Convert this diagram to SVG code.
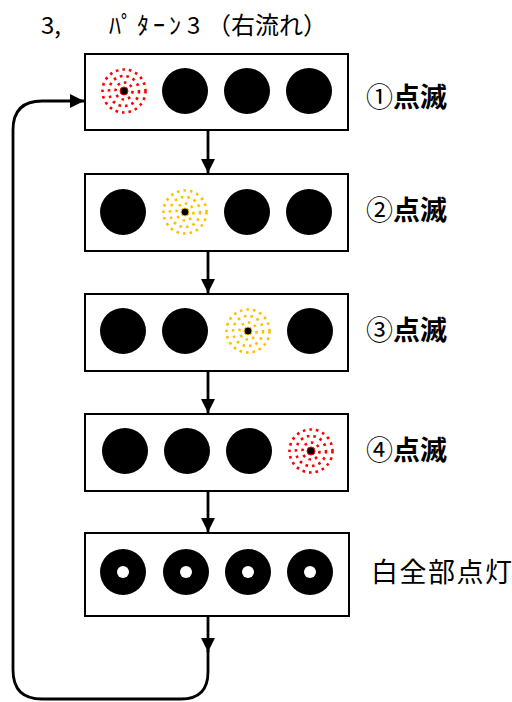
<svg xmlns="http://www.w3.org/2000/svg" width="512" height="702" viewBox="0 0 512 702">
<style>
.box{fill:#fff;stroke:#000;stroke-width:2}
.lamp{fill:#000}
.hole{fill:#fff}
.conn{fill:none;stroke:#000;stroke-width:2.8}
.ring{fill:none;stroke-width:2.6;stroke-dasharray:2.6 4}
.lbl{font-family:"Noto Sans CJK JP","Noto Sans",sans-serif;font-size:27px;font-weight:bold;fill:#000}
.num{font-weight:normal}
.ttl{font-family:"Noto Sans CJK JP","Noto Sans",sans-serif;font-size:24px;fill:#000}
</style>
<defs>
<marker id="ah" viewBox="0 0 10 10" refX="10" refY="5" markerWidth="5.5" markerHeight="5" markerUnits="strokeWidth" orient="auto">
<path d="M0,0 L10,5 L0,10 Z" fill="#000"/>
</marker>
<g id="blink">
<circle r="21.5" class="ring"/>
<circle r="15" class="ring"/>
<circle r="8.5" class="ring"/>
<circle r="4" fill="#000"/>
</g>
</defs>
<rect width="512" height="702" fill="#fff"/>
<g id="title">
<text class="ttl" x="41" y="34">3,</text>
<text class="ttl" x="109" y="34" textLength="72" lengthAdjust="spacing">ﾊﾟﾀｰﾝ</text>
<text class="ttl" x="187" y="34">3</text>
<text class="ttl" x="207" y="34" font-size="26">（右流れ）</text>
</g>
<g id="connectors">
<line class="conn" x1="208" y1="131" x2="208" y2="173" marker-end="url(#ah)"/>
<line class="conn" x1="208" y1="252" x2="208" y2="293" marker-end="url(#ah)"/>
<line class="conn" x1="208" y1="372" x2="208" y2="413" marker-end="url(#ah)"/>
<line class="conn" x1="208" y1="492" x2="208" y2="532" marker-end="url(#ah)"/>
<line class="conn" x1="208" y1="617" x2="208" y2="652" marker-end="url(#ah)"/>
<path class="conn" d="M208,650 L208,672 Q208,699 181,699 L42,699 Q13,699 13,670 L13,130 Q13,101 42,101 L84,101" marker-end="url(#ah)"/>
</g>
<g id="step1">
<rect class="box" x="85" y="54" width="263" height="76"/>
<use href="#blink" x="124" y="91" stroke="#ff0000"/>
<circle class="lamp" cx="185" cy="91" r="23"/>
<circle class="lamp" cx="247" cy="91" r="23"/>
<circle class="lamp" cx="309" cy="91" r="23"/>
<text class="lbl" x="366" y="107"><tspan class="num">①</tspan>点滅</text>
</g>
<g id="step2">
<rect class="box" x="85" y="174" width="263" height="77"/>
<circle class="lamp" cx="123" cy="212" r="23"/>
<use href="#blink" x="185" y="212" stroke="#ffc000"/>
<circle class="lamp" cx="247" cy="212" r="23"/>
<circle class="lamp" cx="309" cy="212" r="23"/>
<text class="lbl" x="366" y="220"><tspan class="num">②</tspan>点滅</text>
</g>
<g id="step3">
<rect class="box" x="85" y="294" width="263" height="77"/>
<circle class="lamp" cx="123" cy="331" r="23"/>
<circle class="lamp" cx="185" cy="331" r="23"/>
<use href="#blink" x="248" y="331" stroke="#ffc000"/>
<circle class="lamp" cx="310" cy="331" r="23"/>
<text class="lbl" x="366" y="340"><tspan class="num">③</tspan>点滅</text>
</g>
<g id="step4">
<rect class="box" x="85" y="414" width="263" height="77"/>
<circle class="lamp" cx="125" cy="451" r="23"/>
<circle class="lamp" cx="187" cy="451" r="23"/>
<circle class="lamp" cx="249" cy="451" r="23"/>
<use href="#blink" x="311" y="451" stroke="#ff0000"/>
<text class="lbl" x="366" y="460"><tspan class="num">④</tspan>点滅</text>
</g>
<g id="step5">
<rect class="box" x="85" y="533" width="264" height="83"/>
<circle class="lamp" cx="123" cy="572" r="23"/>
<circle class="hole" cx="123" cy="572" r="6"/>
<circle class="lamp" cx="186" cy="572" r="23"/>
<circle class="hole" cx="186" cy="572" r="6"/>
<circle class="lamp" cx="248" cy="572" r="23"/>
<circle class="hole" cx="248" cy="572" r="6"/>
<circle class="lamp" cx="310" cy="572" r="23"/>
<circle class="hole" cx="310" cy="572" r="6"/>
<text class="lbl" x="371" y="582" style="font-weight:normal;letter-spacing:1.5px" font-size="26">白全部点灯</text>
</g>
</svg>
